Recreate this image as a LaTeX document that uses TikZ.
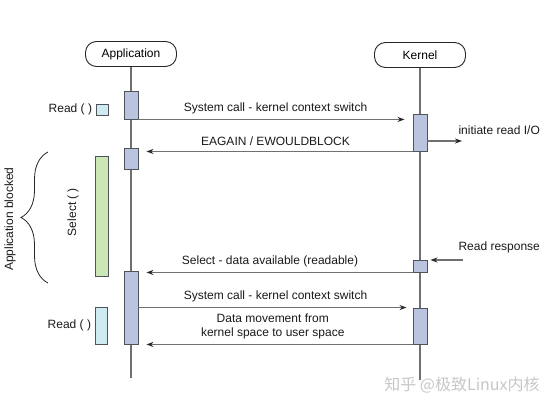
\documentclass[tikz,border=0pt]{standalone}
\usepackage{fontspec}
\setmainfont{Liberation Sans}
\newfontfamily\cjkfont{Noto Sans CJK SC}
\usetikzlibrary{arrows.meta,decorations.pathreplacing}

\definecolor{lifegray}{HTML}{707070}
\definecolor{bordergray}{HTML}{4F535A}
\definecolor{actblue}{HTML}{BAC4DF}
\definecolor{selgreen}{HTML}{CBE7B6}
\definecolor{readblue}{HTML}{CFEBF2}

\tikzset{
  header/.style={draw=black!85, line width=0.9pt, rounded corners=11pt, fill=white,
    minimum width=91pt, minimum height=25pt, font=\fontsize{12}{14}\selectfont},
  lifeline/.style={draw=lifegray, line width=1.6pt},
  actbar/.style={draw=bordergray, line width=0.9pt, fill=actblue, minimum width=14pt, inner sep=0pt},
  msg/.style={draw=lifegray, line width=1.2pt, -{Stealth[length=7pt,width=5pt,color=black!85]}},
  msgtext/.style={font=\fontsize{12}{14}\selectfont, text=black!90},
}

% name, x, top, bottom
\newcommand{\actbox}[4]{
  \node[actbar, minimum height={#4-#3}] (#1) at (#2, {(#3+#4)/2}) {};
}

\begin{document}
\begin{tikzpicture}[x=1pt, y=-1pt]
\useasboundingbox (0,0) rectangle (557,409);

% lifelines
\node[header] (app) at (131,54) {Application};
\node[header] (kern) at (420,55) {Kernel};
\coordinate (append) at (131,378);
\coordinate (kernend) at (420,380);
\draw[lifeline] (app.south) -- (append);
\draw[lifeline] (kern.south) -- (kernend);

\actbox{a1}{131}{91}{119}
\actbox{a2}{131}{148}{169}
\actbox{a3}{131}{271}{344}
\actbox{k1}{420}{114}{151}
\actbox{k2}{420}{260}{272}
\actbox{k3}{420}{308}{344}

% application side
\node[draw=bordergray, line width=0.9pt, fill=readblue, minimum width=12pt, minimum height=11pt, inner sep=0pt] (rsq1) at (102,109.5) {};
\node[msgtext, anchor=east] (rlbl1) at (rsq1.west) {Read ( )};
\node[draw=bordergray, line width=0.9pt, fill=selgreen, minimum width=13pt, minimum height=120pt, inner sep=0pt] (sel) at (101.5,216) {};
\node[msgtext, rotate=90] (sellbl) at (73,212) {Select ( )};
\node[draw=bordergray, line width=0.9pt, fill=readblue, minimum width=12pt, minimum height=37pt, inner sep=0pt] (rsq2) at (101,325.5) {};
\node[msgtext, anchor=east] (rlbl2) at (rsq2.west) {Read ( )};

\coordinate (brtop) at (48,152);
\coordinate (brbot) at (48,283);
\draw[black!85, line width=0.8pt, decorate, decoration={brace, amplitude=27pt}] (brbot) -- (brtop);
\node[msgtext, rotate=90] (blocked) at (10,219) {Application blocked};

% messages
\draw[msg, shorten >=8pt] (a1.south east) -- (a1.south east -| k1.west)
  node[msgtext, midway, above=2pt] {System call - kernel context switch};
\draw[msg, shorten >=8pt] (k1.south west) -- (k1.south west -| a2.east)
  node[msgtext, midway, above=2pt] {EAGAIN / EWOULDBLOCK};
\coordinate (io) at (462,141);
\draw[msg] (k1.east |- io) -- (io);
\node[msgtext, anchor=west] (iolbl) at (455,130) {initiate read I/O};

\coordinate (rr) at (463,260);
\draw[msg, shorten >=3pt] (rr) -- (rr -| k2.east);
\node[msgtext, anchor=west] (rrlbl) at (455,247) {Read response};

\draw[msg, shorten >=8pt] (k2.south west) -- (k2.south west -| a3.east)
  node[msgtext, pos=0.52, above=2pt] {Select - data available (readable)};
\draw[msg, shorten >=6pt] (a3.east |- k3.north) -- (k3.north west)
  node[msgtext, midway, above=2pt] {System call - kernel context switch};
\draw[msg, shorten >=8pt] (k3.south west) -- (k3.south west -| a3.east)
  node[msgtext, pos=0.51, above=2pt, align=center] {Data movement from\\kernel space to user space};

\node[text=black!22, font=\cjkfont\fontsize{16}{16}\selectfont] (mark) at (462,385) {知乎 @极致Linux内核};
\end{tikzpicture}
\end{document}
